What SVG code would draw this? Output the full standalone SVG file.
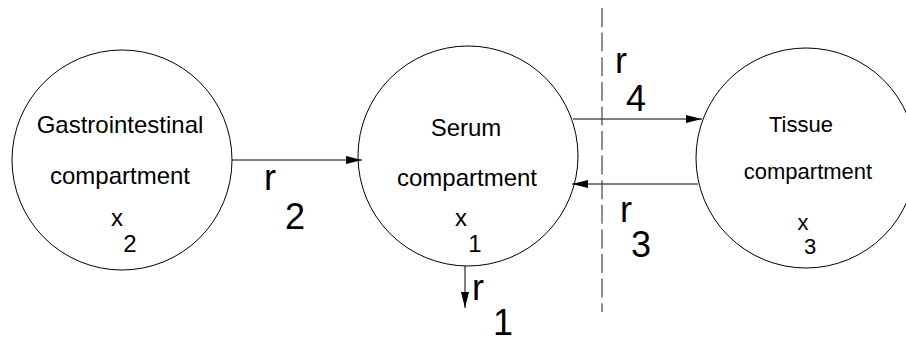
<svg xmlns="http://www.w3.org/2000/svg" width="906" height="343" viewBox="0 0 906 343">
<defs>
<style>
.node{fill:#fff;stroke:#000;stroke-width:1}
.t{font-family:"Liberation Sans",Arial,sans-serif;fill:#000;text-anchor:middle}
.n{font-size:24px}
.ns{font-size:22px}
.lab{font-family:"Liberation Sans",Arial,sans-serif;fill:#000;font-size:36px;text-anchor:start}
.conn{stroke:#000;stroke-width:1;fill:none}
.dash{stroke:#444;stroke-width:1.2;stroke-dasharray:19 5.6;fill:none}
</style>
<marker id="ah" markerUnits="userSpaceOnUse" markerWidth="18" markerHeight="10" refX="16" refY="4" orient="auto">
<path d="M0,0 L16,4 L0,8 Z" fill="#000"/>
</marker>
</defs>
<rect width="906" height="343" fill="#fff"/>
<g id="gi">
<circle class="node" cx="122" cy="160" r="110"/>
<text class="t n" x="120" y="133">Gastrointestinal</text>
<text class="t n" x="120" y="184">compartment</text>
<text class="t n" x="117" y="226">x</text>
<text class="t n" x="130" y="252">2</text>
</g>
<g id="serum">
<circle class="node" cx="468" cy="156" r="110"/>
<text class="t n" x="466" y="136">Serum</text>
<text class="t n" x="467" y="186">compartment</text>
<text class="t n" x="461" y="226">x</text>
<text class="t n" x="475" y="252">1</text>
</g>
<g id="tissue">
<circle class="node" cx="806" cy="158" r="110"/>
<text class="t ns" x="801" y="132">Tissue</text>
<text class="t ns" x="808" y="179">compartment</text>
<text class="t ns" x="803" y="230">x</text>
<text class="t ns" x="810" y="254">3</text>
</g>
<g id="connectors">
<line class="conn" x1="232" y1="160" x2="362" y2="160" marker-end="url(#ah)"/>
<line class="conn" x1="573" y1="119" x2="702" y2="119" marker-end="url(#ah)"/>
<line class="conn" x1="698" y1="184" x2="572" y2="184" marker-end="url(#ah)"/>
<line class="conn" x1="465" y1="266" x2="465" y2="308" marker-end="url(#ah)"/>
<line class="dash" x1="602" y1="8" x2="602" y2="312"/>
</g>
<g id="labels">
<text class="lab" x="264" y="190">r</text>
<text class="lab" x="285" y="229">2</text>
<text class="lab" x="472" y="300">r</text>
<text class="lab" x="493" y="335">1</text>
<text class="lab" x="615" y="73">r</text>
<text class="lab" x="626" y="111">4</text>
<text class="lab" x="620" y="222">r</text>
<text class="lab" x="631" y="257">3</text>
</g>
</svg>
